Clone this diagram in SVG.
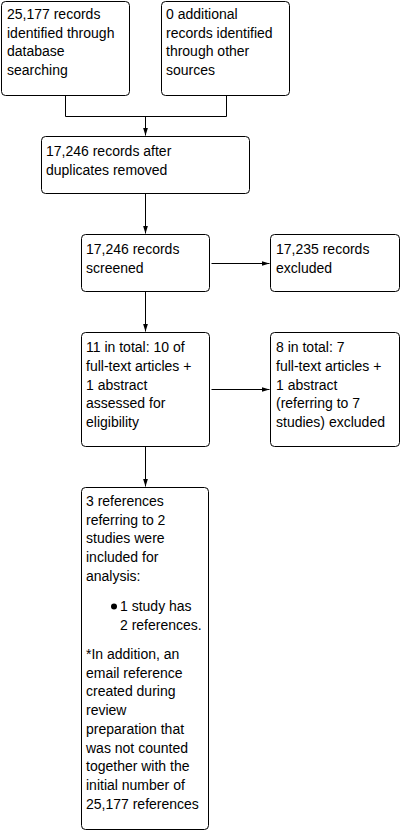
<svg xmlns="http://www.w3.org/2000/svg" width="402" height="831" viewBox="0 0 402 831">
<style>
.box{fill:#fff;stroke:#000;stroke-width:1}
.t{font-family:"Liberation Sans",Arial,sans-serif;font-size:14px;fill:#000}
.c{fill:none;stroke:#000;stroke-width:1}
</style>
<defs>
<marker id="ah" viewBox="0 0 8 8" refX="8" refY="4" markerWidth="8" markerHeight="8" markerUnits="userSpaceOnUse" orient="auto">
<path d="M0,1.5 L8,4 L0,6.5 Z" fill="#000"/>
</marker>
</defs>
<rect width="402" height="831" fill="#fff"/>
<g id="connectors">
<path class="c" d="M65.5,95.5 V116.5 H226.5 V95.5"/>
<path class="c" d="M145.5,116.5 V135.5" marker-end="url(#ah)"/>
<path class="c" d="M145.5,193.5 V233.5" marker-end="url(#ah)"/>
<path class="c" d="M211.5,263.5 H269.5" marker-end="url(#ah)"/>
<path class="c" d="M145.5,291.5 V331.5" marker-end="url(#ah)"/>
<path class="c" d="M211.5,389.5 H269.5" marker-end="url(#ah)"/>
<path class="c" d="M145.5,446.5 V486.5" marker-end="url(#ah)"/>
</g>
<g id="n1">
<rect class="box" x="1.5" y="1.5" width="128" height="94" rx="4"/>
<text class="t" x="7" y="19">25,177 records</text>
<text class="t" x="7" y="37.7">identified through</text>
<text class="t" x="7" y="56.4">database</text>
<text class="t" x="7" y="75.1">searching</text>
</g>
<g id="n2">
<rect class="box" x="161.5" y="1.5" width="128" height="94" rx="4"/>
<text class="t" x="166" y="19">0 additional</text>
<text class="t" x="166" y="37.7">records identified</text>
<text class="t" x="166" y="56.4">through other</text>
<text class="t" x="166" y="75.1">sources</text>
</g>
<g id="n3">
<rect class="box" x="41.5" y="136.5" width="208" height="57" rx="4"/>
<text class="t" x="46" y="156">17,246 records after</text>
<text class="t" x="46" y="174.7">duplicates removed</text>
</g>
<g id="n4">
<rect class="box" x="81.5" y="234.5" width="128" height="57" rx="4"/>
<text class="t" x="86" y="254">17,246 records</text>
<text class="t" x="86" y="272.7">screened</text>
</g>
<g id="n5">
<rect class="box" x="270.5" y="234.5" width="129" height="57" rx="4"/>
<text class="t" x="276" y="254">17,235 records</text>
<text class="t" x="276" y="272.7">excluded</text>
</g>
<g id="n6">
<rect class="box" x="81.5" y="332.5" width="128" height="114" rx="4"/>
<text class="t" x="86" y="352.3">11 in total: 10 of</text>
<text class="t" x="86" y="371">full-text articles +</text>
<text class="t" x="86" y="389.7">1 abstract</text>
<text class="t" x="86" y="408.4">assessed for</text>
<text class="t" x="86" y="427.1">eligibility</text>
</g>
<g id="n7">
<rect class="box" x="270.5" y="332.5" width="129" height="114" rx="4"/>
<text class="t" x="276" y="352.3">8 in total: 7</text>
<text class="t" x="276" y="371">full-text articles +</text>
<text class="t" x="276" y="389.7">1 abstract</text>
<text class="t" x="276" y="408.4">(referring to 7</text>
<text class="t" x="276" y="427.1">studies) excluded</text>
</g>
<g id="n8">
<rect class="box" x="81.5" y="487.5" width="127" height="342" rx="4"/>
<text class="t" x="86" y="506">3 references</text>
<text class="t" x="86" y="524.7">referring to 2</text>
<text class="t" x="86" y="543.4">studies were</text>
<text class="t" x="86" y="562.1">included for</text>
<text class="t" x="86" y="580.8">analysis:</text>
<circle cx="114" cy="606.5" r="3" fill="#000"/>
<text class="t" x="120" y="611">1 study has</text>
<text class="t" x="120" y="629.7">2 references.</text>
<text class="t" x="86" y="659">*In addition, an</text>
<text class="t" x="86" y="677.7">email reference</text>
<text class="t" x="86" y="696.4">created during</text>
<text class="t" x="86" y="715.1">review</text>
<text class="t" x="86" y="733.8">preparation that</text>
<text class="t" x="86" y="752.5">was not counted</text>
<text class="t" x="86" y="771.2">together with the</text>
<text class="t" x="86" y="789.9">initial number of</text>
<text class="t" x="86" y="808.6">25,177 references</text>
</g>
</svg>
